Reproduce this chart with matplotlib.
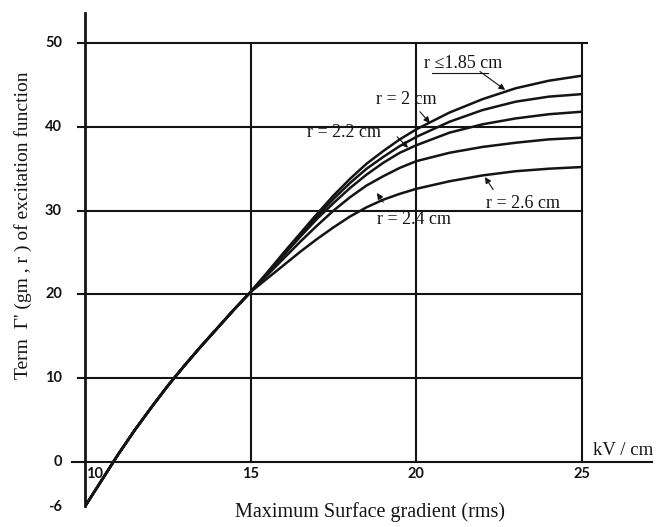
import numpy as np
import matplotlib
matplotlib.use("Agg")
import matplotlib.pyplot as plt

# gradient (kV/cm, rms) and the shared lower part of every curve
x_common = [10.0, 10.5, 11.0, 11.5, 12.0, 12.5, 13.0, 13.5, 14.0, 14.5, 15.0]
y_common = [-5.3, -2.2, 0.9, 3.8, 6.5, 9.1, 11.5, 13.8, 16.0, 18.2, 20.3]

# upper part, one list per conductor radius
x_upper = [15.5, 16.0, 16.5, 17.0, 17.5, 18.0, 18.5, 19.0, 19.5, 20.0,
           21.0, 22.0, 23.0, 24.0, 25.0]
gamma_185 = [22.6, 25.0, 27.3, 29.6, 31.8, 33.8, 35.6, 37.1, 38.5, 39.7,
             41.7, 43.3, 44.6, 45.5, 46.1]
gamma_20 = [22.6, 24.9, 27.1, 29.3, 31.4, 33.3, 35.0, 36.4, 37.7, 38.8,
            40.6, 42.0, 43.0, 43.6, 43.9]
gamma_22 = [22.5, 24.7, 26.9, 29.0, 30.9, 32.7, 34.3, 35.7, 36.9, 37.8,
            39.3, 40.3, 41.0, 41.5, 41.8]
gamma_24 = [22.3, 24.3, 26.3, 28.2, 30.0, 31.6, 33.0, 34.1, 35.1, 35.9,
            36.9, 37.6, 38.1, 38.5, 38.7]
gamma_26 = [21.9, 23.5, 25.1, 26.6, 28.0, 29.3, 30.4, 31.3, 32.0, 32.6,
            33.5, 34.2, 34.7, 35.0, 35.2]

xticks = [10, 15, 20, 25]
yticks = [0, 10, 20, 30, 40, 50]

serif = "Liberation Serif"
tickfont = dict(family="Lato", weight="bold", size=10.5)
ink = "#141414"

fig = plt.figure(figsize=(6.58, 5.27), dpi=100)
ax = fig.add_axes([0.12918, 0.01998, 0.75532, 0.96998])
ax.set_xlim(10, 25)
ax.set_ylim(-6.5, 54.5)
ax.axis("off")

# grid, drawn past the frame like the printed chart
for yv in yticks[1:]:
    right = 25.15 if yv == 50 else 25.0
    ax.plot([9.79, right], [yv, yv], color=ink, lw=1.5, clip_on=False, zorder=3)
ax.plot([9.6, 27.1], [0, 0], color=ink, lw=1.5, clip_on=False, zorder=3)
for xv in xticks[1:]:
    ax.plot([xv, xv], [0, 50], color=ink, lw=1.5, clip_on=False, zorder=3)
ax.plot([10, 10], [y_common[0], 53.6], color=ink, lw=2.0, clip_on=False, zorder=3)

for g in [gamma_185, gamma_20, gamma_22, gamma_24, gamma_26]:
    xs = np.array(x_common + x_upper)
    ys = np.array(y_common + g)
    ax.plot(xs, ys, color=ink, lw=1.8, solid_capstyle="round", zorder=4)

# tick labels
for xv in xticks:
    xpos = xv + 0.3 if xv == 10 else xv
    ax.text(xpos, -1.43, str(xv), ha="center", va="center", color=ink, **tickfont)
for yv in yticks:
    ax.text(9.306, yv, str(yv), ha="right", va="center", color=ink, **tickfont)
ax.text(9.306, -5.4, "-6", ha="right", va="center", color=ink, **tickfont)

ax.text(25.33, 0.3, "kV / cm", ha="left", va="bottom", family=serif,
        size=13.5, color=ink)
ax.text(18.6, -5.97, "Maximum Surface gradient (rms)", ha="center", va="center",
        family=serif, size=14.5, color=ink, clip_on=False)
ax.text(8.13, 28.3, "Term  \u0393' (gm , r ) of excitation function",
        ha="center", va="center", rotation=90, family=serif, size=14,
        color=ink, clip_on=False)

# curve labels with pointers
labels = [
    ("r \u22641.85 cm", (21.41, 47.5), (21.92, 46.6), (22.68, 44.4)),
    ("r = 2 cm", (19.69, 43.3), (20.11, 41.8), (20.41, 40.45)),
    ("r = 2.2 cm", (17.82, 39.3), (19.42, 38.8), (19.75, 37.5)),
    ("r = 2.4 cm", (19.93, 28.9), (19.0, 31.0), (18.81, 32.1)),
    ("r = 2.6 cm", (23.22, 30.9), (22.32, 32.5), (22.07, 34.0)),
]
for txt, pos, tail, tip in labels:
    ax.text(pos[0], pos[1], txt, ha="center", va="center", family=serif,
            size=13, color=ink, zorder=2)
    ax.annotate("", xy=tip, xytext=tail,
                arrowprops=dict(arrowstyle="-|>", lw=0.8, color=ink,
                                mutation_scale=9, shrinkA=0, shrinkB=0),
                zorder=5)
ax.plot([20.47, 22.16], [46.4, 46.4], color=ink, lw=0.8, zorder=2)

fig.savefig("out.png", dpi=100, facecolor="white")
